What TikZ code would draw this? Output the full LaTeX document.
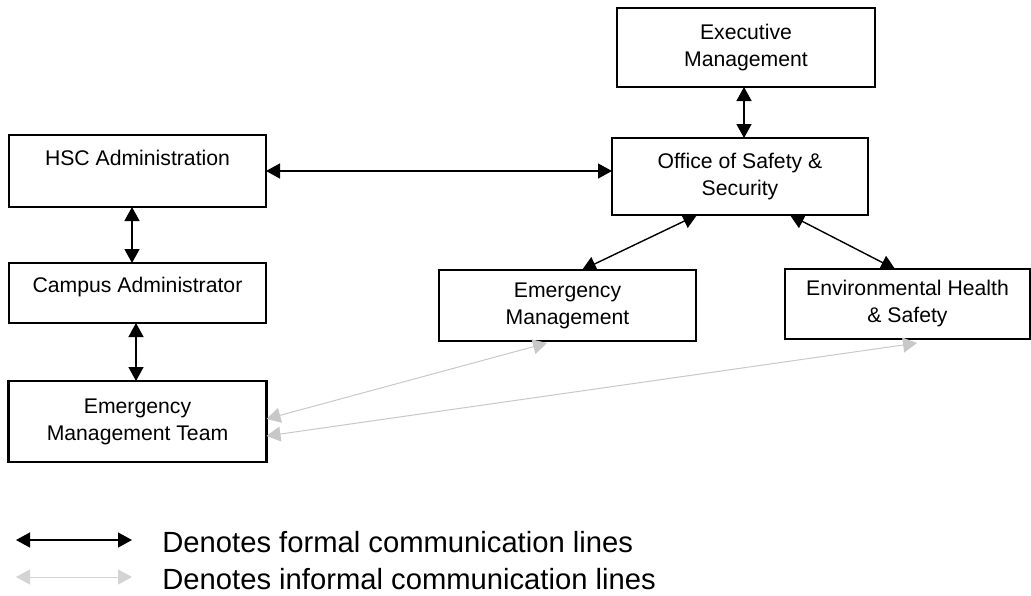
\documentclass[tikz,border=0pt]{standalone}
\usepackage{fontspec}
\setmainfont{Liberation Sans}
\usepackage{tikz}
\usetikzlibrary{positioning,arrows.meta}
\definecolor{infgray}{RGB}{200,200,200}
\definecolor{leggray}{RGB}{212,212,212}
\tikzset{
		unit/.style   = {draw, line width=1.25pt, rectangle, inner sep=0pt, outer sep=0pt,
			minimum width=128.5pt, align=center, font=\fontsize{10.6}{13.5}\selectfont},
		formal/.style = {<->, line width=0.7pt, black},
		informal/.style = {<->, line width=0.5pt, infgray},
		legtext/.style = {anchor=west, inner sep=0pt, font=\fontsize{14.6}{19.5}\selectfont}
	}

\begin{document}
\begin{tikzpicture}[x=0.5pt, y=-0.5pt,
		>={Triangle[length=7pt,width=7.5pt]}]
		\useasboundingbox (0,0) rectangle (1031,595);
		% left column
		\node[unit, minimum height=36pt] (hsc) at (137.5,171) {HSC Administration\\\mbox{}};
		\node[unit, minimum height=30pt, below = 28pt of hsc] (campus)
			{\raisebox{3pt}[\height][\depth]{Campus Administrator}};
		\node[unit, minimum height=40.5pt, minimum width=129pt, below = 29pt of campus] (emt)
			{Emergency\\Management Team};
		% right part
		\node[unit, minimum height=38.5pt, minimum width=128pt] (office) at (740,176.5)
			{Office of Safety \&\\Security};
		\node[unit, minimum height=39.5pt, minimum width=129pt, above = 25.5pt of office, xshift=3pt] (exec)
			{Executive\\Management};
		\node[unit, minimum height=35.5pt] (em) at (567.5,305.5) {Emergency\\Management};
		\node[unit, minimum height=35pt, minimum width=122.5pt] (ehs) at (907.5,304)
			{Environmental Health\\\& Safety};
		% formal lines
		\draw[formal] ([xshift=2pt]office.north) -- ([xshift=2pt]office.north |- exec.south);
		\draw[formal] (hsc.east) -- (hsc.east -| office.west);
		\foreach \a/\b/\s in {hsc/campus/-2.75pt, campus/emt/-0.75pt}
		\draw[formal] ([xshift=\s]\a.south) -- ([xshift=\s]\b.north);
		\draw[formal] ([xshift=-21.5pt]office.south) -- ([xshift=7.25pt]em.north);
		\draw[formal] ([xshift=25pt]office.south) -- ([xshift=-6.25pt]ehs.north);
		% informal lines
		\draw[informal] ([yshift=1.25pt]emt.east) -- ([xshift=-10.25pt,yshift=-1pt]em.south);
		\draw[informal] ([yshift=-7.25pt]emt.east) -- ([xshift=4.75pt,yshift=-2pt]ehs.south);
		% legend
		\node[legtext] (legf) at (162,542) {Denotes formal communication lines};
		\node[legtext] (legi) at (162,579) {Denotes informal communication lines};
		\coordinate (fa) at (16,540);
		\coordinate (fb) at (132,540);
		\coordinate (ia) at (16,577);
		\coordinate (ib) at (132,577);
		\draw[formal] (fa) -- (fb);
		\draw[informal, leggray] (ia) -- (ib);
	\end{tikzpicture}
\end{document}
